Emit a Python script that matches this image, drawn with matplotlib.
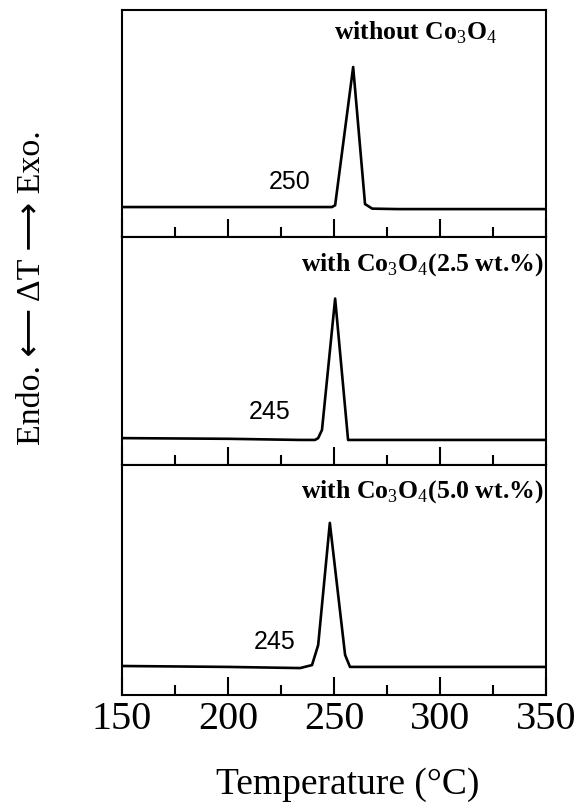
import matplotlib
matplotlib.use('Agg')
from matplotlib import pyplot as plt
from matplotlib.ticker import MultipleLocator

plt.rcParams['font.family'] = ['Liberation Serif', 'DejaVu Serif']
plt.rcParams['mathtext.fontset'] = 'custom'
plt.rcParams['mathtext.rm'] = 'Liberation Serif'
plt.rcParams['mathtext.bf'] = 'Liberation Serif:bold'

# DTA traces (temperature in C, signal in arbitrary units 0-100)
t_none = [150, 200, 249, 250.5, 259, 264.6, 268, 280, 350]
y_none = [13.2, 13.2, 13.2, 14.0, 74.9, 14.5, 12.5, 12.3, 12.3]

t_25 = [150, 200, 234, 241, 242.5, 244.3, 250.5, 256.6, 260, 350]
y_25 = [11.8, 11.5, 11.0, 11.0, 11.8, 15.4, 73.0, 11.0, 11.0, 11.0]

t_50 = [150, 200, 234, 239.6, 242.5, 248, 255.2, 257.5, 270, 350]
y_50 = [12.6, 12.2, 11.7, 13.0, 21.7, 74.8, 17.4, 12.2, 12.2, 12.2]

labels = ['without Co$_3$O$_4$',
          'with Co$_3$O$_4$(2.5 wt.%)',
          'with Co$_3$O$_4$(5.0 wt.%)']
onsets = ['250', '245', '245']
xticks = [150, 200, 250, 300, 350]

fig = plt.figure(figsize=(5.81, 8.10), dpi=100)

# axes boxes (left, bottom, width, height) in figure fractions
boxes = [(0.21, 0.7074, 0.73, 0.2802),
         (0.21, 0.4259, 0.73, 0.2815),
         (0.21, 0.1420, 0.73, 0.2840)]
curves = [(t_none, y_none), (t_25, y_25), (t_50, y_50)]
label_pos = [(0.884, 0.90), (0.993, 0.877), (0.993, 0.883)]
onset_pos = [(229.2, 24.2), (219.8, 23.2), (222.2, 23.0)]

for i in range(3):
    ax = fig.add_axes(boxes[i])
    t, y = curves[i]
    ax.plot(t, y, color='black', lw=1.9, solid_joinstyle='round')
    ax.set_xlim(150, 350)
    ax.set_ylim(0, 100)
    ax.set_yticks([])
    ax.xaxis.set_major_locator(MultipleLocator(50))
    ax.xaxis.set_minor_locator(MultipleLocator(25))
    ax.tick_params(axis='x', which='major', direction='in', length=13, width=1.5,
                   labelsize=29, pad=4)
    ax.tick_params(axis='x', which='minor', direction='in', length=7, width=1.5)
    for s in ax.spines.values():
        s.set_linewidth(1.5)
    if i < 2:
        ax.tick_params(axis='x', labelbottom=False)
    else:
        ax.set_xticks(xticks)
        ax.set_xticklabels([str(v) for v in xticks])
    ax.text(label_pos[i][0], label_pos[i][1], labels[i], transform=ax.transAxes,
            ha='right', va='center', fontsize=18.5, fontweight='bold')
    ax.text(onset_pos[i][0], onset_pos[i][1], onsets[i], ha='center', va='center',
            fontsize=18, family='Liberation Sans')

fig.text(348 / 581, 1 - 785 / 810, 'Temperature (°C)', ha='center', va='center',
         fontsize=27)
fig.text(32 / 581, 1 - 288 / 810, 'Endo. ⟵ ΔT ⟶ Exo.', ha='center', va='center',
         rotation=90, fontsize=24.5, family=['Liberation Serif', 'DejaVu Sans'])

fig.savefig('out.png', dpi=100)
